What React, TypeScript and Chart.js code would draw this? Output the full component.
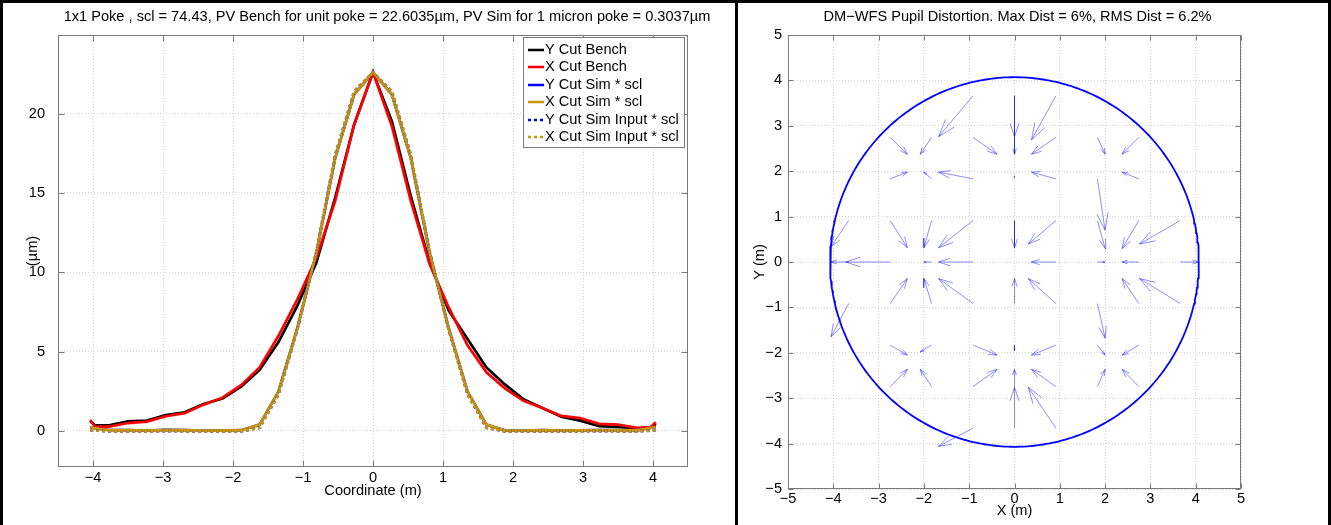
import { useEffect, useRef } from 'react';
import { Chart, registerables } from 'chart.js';

Chart.register(...registerables);

const FONT_FAMILY = '"Liberation Sans", Arial, Helvetica, sans-serif';
const FONT_SIZE = 14.6;
const GRID_COLOR = '#d4d4d4';
const AXIS_COLOR = '#7a7a7a';

// ---------------- Left panel: cuts ----------------
const LEFT_TITLE =
  '1x1 Poke , scl = 74.43, PV Bench for unit poke = 22.6035\u00b5m, PV Sim for 1 micron poke = 0.3037\u00b5m';
const LEFT_X_LABEL = 'Coordinate (m)';
const LEFT_Y_LABEL = '(\u00b5m)';
const LEFT_X_TICKS = [-4, -3, -2, -1, 0, 1, 2, 3, 4];
const LEFT_Y_TICKS = [0, 5, 10, 15, 20];
const LEFT_X_MIN = -4.5;
const LEFT_X_MAX = 4.5;
const LEFT_Y_MIN = -2.27;
const LEFT_Y_MAX = 24.95;

const BENCH_X = [
  -4.04, -3.97, -3.77, -3.5, -3.23, -2.96, -2.69, -2.42, -2.15, -1.88, -1.62, -1.35, -1.08, -0.81, -0.54, -0.27, 0,
  0.27, 0.54, 0.81, 1.08, 1.35, 1.62, 1.88, 2.15, 2.42, 2.69, 2.96, 3.23, 3.5, 3.77, 3.97, 4.04,
];
const Y_CUT_BENCH = [
  0.62, 0.35, 0.35, 0.6, 0.65, 1.0, 1.18, 1.7, 2.05, 2.8, 3.85, 5.6, 7.9, 10.6, 14.7, 19.3, 22.6,
  19.5, 14.8, 10.6, 7.6, 5.8, 4.0, 2.95, 2.0, 1.45, 0.9, 0.65, 0.3, 0.25, 0.15, 0.2, 0.45,
];
const X_CUT_BENCH = [
  0.69, 0.27, 0.27, 0.5, 0.59, 0.93, 1.12, 1.66, 2.1, 2.9, 4.0, 6.0, 8.3, 10.9, 14.5, 19.3, 22.6,
  19.2, 14.5, 10.5, 7.8, 5.4, 3.7, 2.7, 1.9, 1.45, 0.95, 0.82, 0.45, 0.4, 0.2, 0.25, 0.55,
];

const SIM_X = [
  -4.04, -3.77, -3.5, -3.23, -2.96, -2.69, -2.42, -2.15, -1.88, -1.62, -1.35, -1.08, -0.81, -0.54, -0.27, 0,
  0.27, 0.54, 0.81, 1.08, 1.35, 1.62, 1.88, 2.15, 2.42, 2.69, 2.96, 3.23, 3.5, 3.77, 4.04,
];
const Y_CUT_SIM = [
  0.22, 0.05, 0.05, 0.03, 0.07, 0.05, 0.03, 0.02, 0.05, 0.4, 2.5, 6.5, 11.2, 17.2, 21.2, 22.6,
  21.2, 17.2, 11.2, 6.5, 2.5, 0.4, 0.04, 0.03, 0.05, 0.03, 0.04, 0.06, 0.05, 0.04, 0.25,
];
const X_CUT_SIM = [
  0.22, 0.05, 0.05, 0.03, 0.07, 0.05, 0.03, 0.02, 0.05, 0.4, 2.5, 6.5, 11.2, 17.2, 21.2, 22.6,
  21.2, 17.2, 11.2, 6.5, 2.5, 0.4, 0.04, 0.03, 0.05, 0.03, 0.04, 0.06, 0.05, 0.04, 0.25,
];
const Y_CUT_SIM_INPUT = [
  0.05, -0.02, -0.02, -0.03, -0.01, -0.02, -0.03, -0.03, -0.02, 0.2, 2.3, 6.4, 11.3, 17.4, 21.4, 22.6,
  21.4, 17.4, 11.3, 6.4, 2.3, 0.2, -0.02, -0.03, -0.02, -0.03, -0.02, -0.01, -0.02, -0.03, 0.05,
];
const X_CUT_SIM_INPUT = [
  0.05, -0.02, -0.02, -0.03, -0.01, -0.02, -0.03, -0.03, -0.02, 0.2, 2.3, 6.4, 11.3, 17.4, 21.4, 22.6,
  21.4, 17.4, 11.3, 6.4, 2.3, 0.2, -0.02, -0.03, -0.02, -0.03, -0.02, -0.01, -0.02, -0.03, 0.05,
];

const SERIES_LABELS = [
  'Y Cut Bench',
  'X Cut Bench',
  'Y Cut Sim * scl',
  'X Cut Sim * scl',
  'Y Cut Sim Input * scl',
  'X Cut Sim Input * scl',
];
const SERIES_COLORS = ['#000000', '#ff0000', '#0000ff', '#cc9900', '#0000ff', '#cc9900'];
const SERIES_DOTTED = [false, false, false, false, true, true];

// ---------------- Right panel: pupil distortion ----------------
const RIGHT_TITLE = 'DM\u2212WFS Pupil Distortion. Max Dist = 6%, RMS Dist = 6.2%';
const RIGHT_X_LABEL = 'X (m)';
const RIGHT_Y_LABEL = 'Y (m)';
const RIGHT_TICKS = [-5, -4, -3, -2, -1, 0, 1, 2, 3, 4, 5];
const RIGHT_MIN = -5;
const RIGHT_MAX = 5;
const PUPIL_RADIUS = 4.07;

const QUIVER_X = [
  -0.915, 0, 0.915,
  -2.745, -1.83, -0.915, 0, 0.915, 1.83, 2.745,
  -2.745, -1.83, -0.915, 0, 0.915, 1.83, 2.745,
  -3.66, -2.745, -1.83, -0.915, 0, 0.915, 1.83, 2.745, 3.66,
  -3.66, -2.745, -1.83, -0.915, 0.915, 1.83, 2.745, 3.66,
  -3.66, -2.745, -1.83, -0.915, 0, 0.915, 1.83, 2.745, 3.66,
  -2.745, -1.83, -0.915, 0, 0.915, 1.83, 2.745,
  -2.745, -1.83, -0.915, 0, 0.915, 1.83, 2.745,
  -0.915, 0, 0.915,
];
const QUIVER_Y = [
  3.66, 3.66, 3.66,
  2.745, 2.745, 2.745, 2.745, 2.745, 2.745, 2.745,
  1.83, 1.83, 1.83, 1.83, 1.83, 1.83, 1.83,
  0.915, 0.915, 0.915, 0.915, 0.915, 0.915, 0.915, 0.915, 0.915,
  0, 0, 0, 0, 0, 0, 0, 0,
  -0.915, -0.915, -0.915, -0.915, -0.915, -0.915, -0.915, -0.915, -0.915,
  -1.83, -1.83, -1.83, -1.83, -1.83, -1.83, -1.83,
  -2.745, -2.745, -2.745, -2.745, -2.745, -2.745, -2.745,
  -3.66, -3.66, -3.66,
];
const QUIVER_U = [
  -0.76, 0, -0.54,
  0.38, -0.25, 0.53, 0, -0.54, 0.17, -0.37,
  0.38, -0.17, -0.76, 0, -0.54, 0.17, -0.37,
  -0.39, 0.38, -0.17, -0.76, 0, -0.61, 0.17, -0.37, -0.9,
  -0.39, -0.98, -0.17, -0.76, -0.54, 0.17, -0.37, 0.4,
  -0.39, 0.38, -0.17, -0.76, 0, -0.61, 0.17, -0.37, -0.9,
  0.38, -0.25, 0.53, 0, -0.54, 0.17, -0.37,
  0.38, -0.25, 0.53, 0, -0.54, 0.17, -0.37,
  -0.76, 0, -0.61,
];
const QUIVER_V = [
  -0.9, -0.9, -0.97,
  -0.37, -0.37, -0.37, -0.37, -0.37, -0.37, -0.37,
  0.15, 0.15, 0.15, 0.07, 0.15, -1.13, 0.15,
  -0.58, -0.6, -0.6, -0.6, -0.6, -0.52, -0.62, -0.62, -0.52,
  0, 0, 0, 0, 0, 0, 0, 0,
  -0.73, 0.55, 0.55, 0.55, 0.55, 0.55, -0.76, 0.55, 0.55,
  -0.22, -0.15, -0.22, -0.12, -0.22, -0.22, -0.22,
  0.38, 0.38, 0.38, 0.38, 0.38, 0.38, 0.38,
  -0.4, 0.9, 0.9,
];

// ---------------- helpers ----------------
const fmt = (v: number) => (v < 0 ? '\u2212' + Math.abs(v) : String(v));
const font = () => ({ family: FONT_FAMILY, size: FONT_SIZE });

function zip(xs: number[], ys: number[]) {
  return xs.map((x, i) => ({ x, y: ys[i] }));
}

function quiverPoints() {
  const alpha = 0.33;
  const beta = 0.33;
  const pts: { x: number; y: number | null }[] = [];
  for (let i = 0; i < QUIVER_X.length; i++) {
    const x = QUIVER_X[i];
    const y = QUIVER_Y[i];
    const u = QUIVER_U[i];
    const v = QUIVER_V[i];
    const tx = x + u;
    const ty = y + v;
    pts.push({ x, y });
    pts.push({ x: tx, y: ty });
    pts.push({ x: tx - alpha * (u + beta * v), y: ty - alpha * (v - beta * u) });
    pts.push({ x: tx, y: null });
    pts.push({ x: tx - alpha * (u - beta * v), y: ty - alpha * (v + beta * u) });
    pts.push({ x: tx, y: ty });
    pts.push({ x: tx, y: null });
  }
  return pts;
}

function circlePoints() {
  const pts: { x: number; y: number }[] = [];
  const n = 360;
  for (let i = 0; i <= n; i++) {
    const t = (i / n) * Math.PI * 2;
    pts.push({ x: PUPIL_RADIUS * Math.cos(t), y: PUPIL_RADIUS * Math.sin(t) });
  }
  return pts;
}

function axesBoxPlugin(tickLen: number) {
  return {
    id: 'axesBox',
    afterDraw(chart: any) {
      const { ctx, chartArea: a, scales } = chart;
      ctx.save();
      ctx.strokeStyle = AXIS_COLOR;
      ctx.lineWidth = 1;
      const l = Math.round(a.left) + 0.5;
      const r = Math.round(a.right) - 0.5;
      const t = Math.round(a.top) + 0.5;
      const b = Math.round(a.bottom) - 0.5;
      ctx.strokeRect(l, t, r - l, b - t);
      ctx.beginPath();
      for (const tk of scales.x.ticks) {
        const px = Math.round(scales.x.getPixelForValue(tk.value)) + 0.5;
        ctx.moveTo(px, b);
        ctx.lineTo(px, b - tickLen);
        ctx.moveTo(px, t);
        ctx.lineTo(px, t + tickLen);
      }
      for (const tk of scales.y.ticks) {
        const py = Math.round(scales.y.getPixelForValue(tk.value)) + 0.5;
        ctx.moveTo(l, py);
        ctx.lineTo(l + tickLen, py);
        ctx.moveTo(r, py);
        ctx.lineTo(r - tickLen, py);
      }
      ctx.stroke();
      ctx.restore();
    },
  };
}

function panelTitlePlugin(text: string, dx: number, y: number) {
  return {
    id: 'panelTitle',
    afterDraw(chart: any) {
      const { ctx, chartArea: a } = chart;
      ctx.save();
      ctx.font = `${FONT_SIZE}px ${FONT_FAMILY}`;
      ctx.fillStyle = '#000';
      ctx.textAlign = 'center';
      ctx.textBaseline = 'middle';
      ctx.fillText(text, (a.left + a.right) / 2 + dx, y);
      ctx.restore();
    },
  };
}

const legendPlugin = {
  id: 'boxLegend',
  afterDraw(chart: any) {
    const { ctx, chartArea: a } = chart;
    const w = 162;
    const h = 111;
    const x0 = Math.round(a.right) - 3 - w;
    const y0 = Math.round(a.top) + 2;
    ctx.save();
    ctx.fillStyle = '#fff';
    ctx.fillRect(x0, y0, w, h);
    ctx.strokeStyle = AXIS_COLOR;
    ctx.lineWidth = 1;
    ctx.strokeRect(x0 + 0.5, y0 + 0.5, w - 1, h - 1);
    ctx.font = `${FONT_SIZE}px ${FONT_FAMILY}`;
    ctx.textBaseline = 'middle';
    ctx.textAlign = 'left';
    const rowH = 17.4;
    for (let i = 0; i < SERIES_LABELS.length; i++) {
      const cy = y0 + 13 + i * rowH;
      ctx.strokeStyle = SERIES_COLORS[i];
      ctx.lineWidth = 2.5;
      ctx.setLineDash(SERIES_DOTTED[i] ? [3, 3] : []);
      ctx.beginPath();
      ctx.moveTo(x0 + 5, Math.round(cy));
      ctx.lineTo(x0 + 21, Math.round(cy));
      ctx.stroke();
      ctx.setLineDash([]);
      ctx.fillStyle = '#000';
      ctx.fillText(SERIES_LABELS[i], x0 + 22, cy);
    }
    ctx.restore();
  },
};

function linearAxis(opts: {
  min: number;
  max: number;
  ticks: number[];
  title: string;
  size: number;
  horizontal: boolean;
  tickPadding: number;
  titlePadding: any;
}) {
  return {
    type: 'linear' as const,
    min: opts.min,
    max: opts.max,
    afterBuildTicks: (s: any) => {
      s.ticks = opts.ticks.map((v) => ({ value: v }));
    },
    afterFit: (s: any) => {
      if (opts.horizontal) s.height = opts.size;
      else s.width = opts.size;
    },
    grid: { color: GRID_COLOR, lineWidth: 1, drawTicks: false },
    border: { display: false, dash: [1, 2] },
    ticks: {
      padding: opts.tickPadding,
      color: '#000',
      font: font(),
      autoSkip: false,
      maxRotation: 0,
      minRotation: 0,
      callback: (v: any) => fmt(Number(v)),
    },
    title: { display: true, text: opts.title, color: '#000', font: font(), padding: opts.titlePadding },
  };
}

export default function App() {
  const leftRef = useRef<HTMLCanvasElement>(null);
  const rightRef = useRef<HTMLCanvasElement>(null);

  useEffect(() => {
    document.body.style.margin = '0';
    const seriesData = [
      zip(BENCH_X, Y_CUT_BENCH),
      zip(BENCH_X, X_CUT_BENCH),
      zip(SIM_X, Y_CUT_SIM),
      zip(SIM_X, X_CUT_SIM),
      zip(SIM_X, Y_CUT_SIM_INPUT),
      zip(SIM_X, X_CUT_SIM_INPUT),
    ];
    const left = new Chart(leftRef.current as HTMLCanvasElement, {
      type: 'line',
      data: {
        datasets: seriesData.map((d, i) => ({
          label: SERIES_LABELS[i],
          data: d,
          borderColor: SERIES_COLORS[i],
          backgroundColor: SERIES_COLORS[i],
          borderWidth: 2.7,
          borderDash: SERIES_DOTTED[i] ? [3, 3] : [],
          pointRadius: 0,
          pointHoverRadius: 0,
          fill: false,
          tension: 0,
          order: SERIES_LABELS.length - 1 - i,
        })),
      },
      options: {
        animation: false,
        responsive: false,
        events: [],
        layout: { padding: { top: 32, right: 47, left: 0, bottom: 0 } },
        plugins: { legend: { display: false }, tooltip: { enabled: false }, title: { display: false } },
        scales: {
          x: linearAxis({
            min: LEFT_X_MIN,
            max: LEFT_X_MAX,
            ticks: LEFT_X_TICKS,
            title: LEFT_X_LABEL,
            size: 58,
            horizontal: true,
            tickPadding: 2,
            titlePadding: { top: 0, bottom: 25 },
          }),
          y: linearAxis({
            min: LEFT_Y_MIN,
            max: LEFT_Y_MAX,
            ticks: LEFT_Y_TICKS,
            title: LEFT_Y_LABEL,
            size: 55,
            horizontal: false,
            tickPadding: 13,
            titlePadding: { top: 21, bottom: 0 },
          }),
        },
      } as any,
      plugins: [axesBoxPlugin(6), legendPlugin, panelTitlePlugin(LEFT_TITLE, 14, 14)],
    });

    const right = new Chart(rightRef.current as HTMLCanvasElement, {
      type: 'line',
      data: {
        datasets: [
          {
            label: 'Distortion',
            data: quiverPoints() as any,
            borderColor: 'rgba(0,0,255,0.45)',
            borderWidth: 1,
            pointRadius: 0,
            pointHoverRadius: 0,
            fill: false,
            tension: 0,
            spanGaps: false,
          },
          {
            label: 'Pupil',
            data: circlePoints(),
            borderColor: '#0000ff',
            borderWidth: 1.8,
            pointRadius: 0,
            pointHoverRadius: 0,
            fill: false,
            tension: 0,
          },
        ],
      },
      options: {
        animation: false,
        responsive: false,
        events: [],
        layout: { padding: { top: 32, right: 86, left: 0, bottom: 0 } },
        plugins: { legend: { display: false }, tooltip: { enabled: false }, title: { display: false } },
        scales: {
          x: linearAxis({
            min: RIGHT_MIN,
            max: RIGHT_MAX,
            ticks: RIGHT_TICKS,
            title: RIGHT_X_LABEL,
            size: 36,
            horizontal: true,
            tickPadding: 1,
            titlePadding: { top: 0, bottom: 5 },
          }),
          y: linearAxis({
            min: RIGHT_MIN,
            max: RIGHT_MAX,
            ticks: RIGHT_TICKS,
            title: RIGHT_Y_LABEL,
            size: 50,
            horizontal: false,
            tickPadding: 6,
            titlePadding: { top: 13, bottom: 0 },
          }),
        },
      } as any,
      plugins: [axesBoxPlugin(5), panelTitlePlugin(RIGHT_TITLE, 3, 14)],
    });

    return () => {
      left.destroy();
      right.destroy();
    };
  }, []);

  const bar = (l: number, t: number, w: number, h: number) => (
    <div style={{ position: 'absolute', left: l, top: t, width: w, height: h, background: '#000' }} />
  );

  return (
    <div
      style={{
        position: 'absolute',
        left: 0,
        top: 0,
        width: 1331,
        height: 525,
        background: '#fff',
        overflow: 'hidden',
      }}
    >
      <canvas
        ref={leftRef}
        width={732}
        height={522}
        style={{ position: 'absolute', left: 3, top: 3, display: 'block' }}
      />
      <canvas
        ref={rightRef}
        width={589}
        height={522}
        style={{ position: 'absolute', left: 738, top: 3, display: 'block' }}
      />
      {bar(0, 0, 1331, 3)}
      {bar(0, 0, 3, 525)}
      {bar(735, 0, 3, 525)}
      {bar(1328, 0, 3, 525)}
    </div>
  );
}
